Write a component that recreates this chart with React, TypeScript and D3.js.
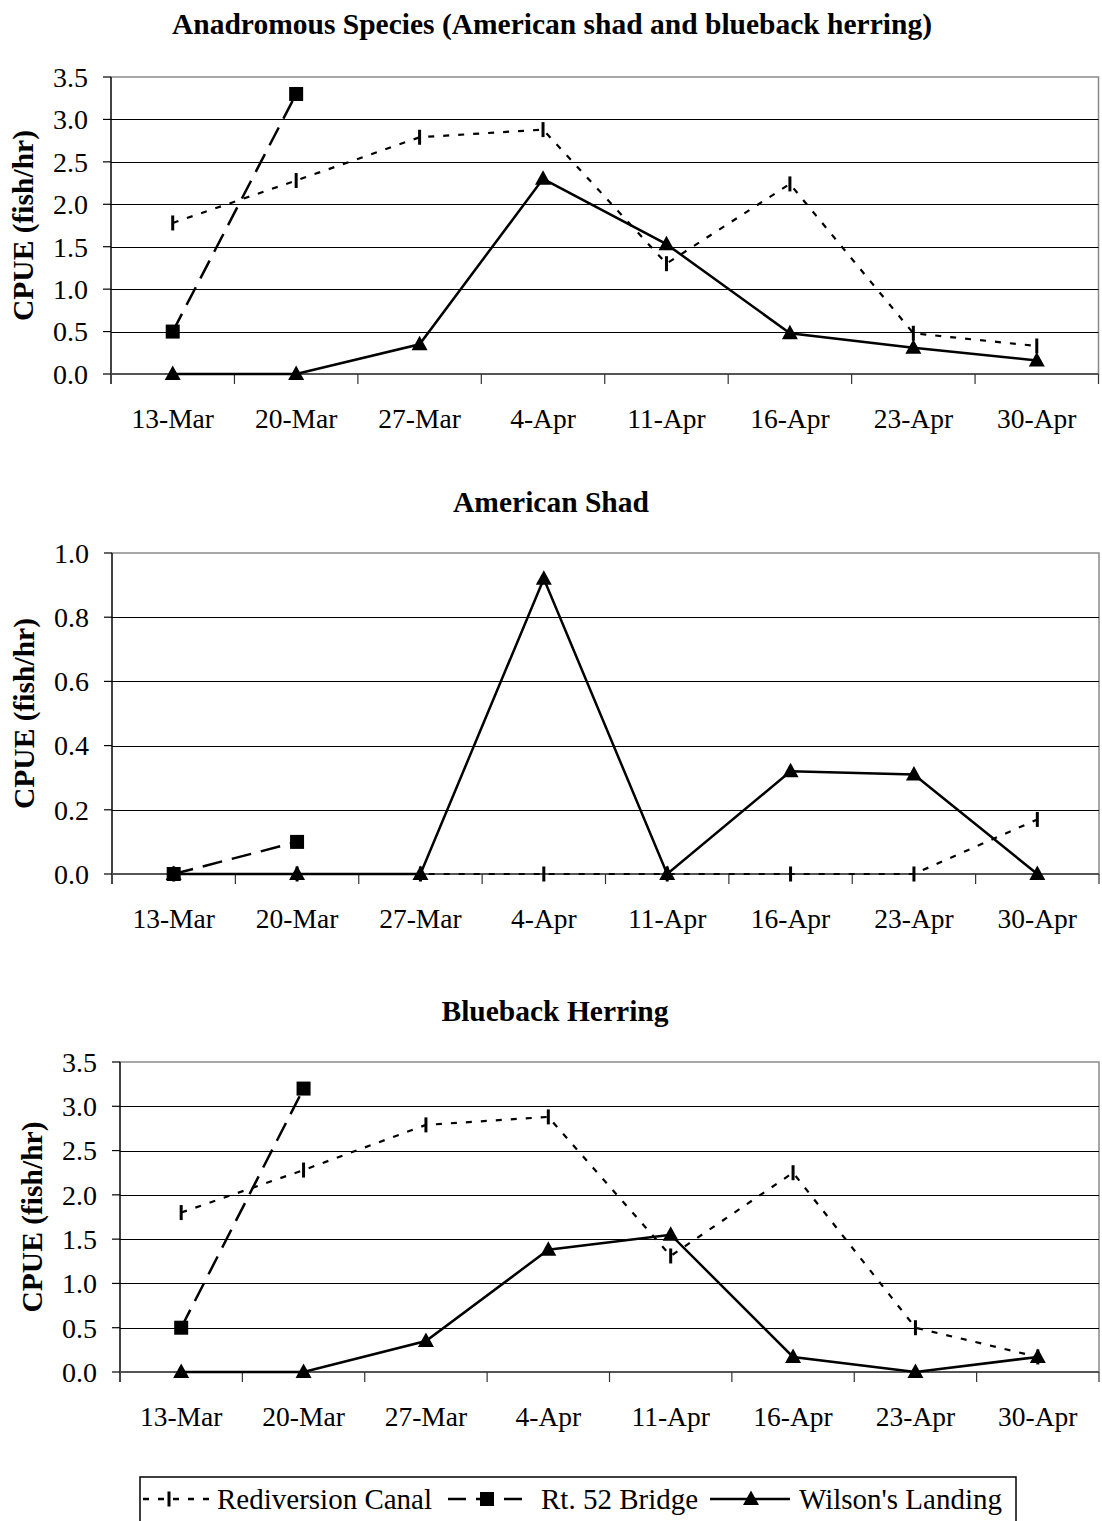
import React, { useEffect, useRef } from 'react';
import * as d3 from 'd3';

const dates = ['13-Mar', '20-Mar', '27-Mar', '4-Apr', '11-Apr', '16-Apr', '23-Apr', '30-Apr'];
const seriesNames = ['Rediversion Canal', 'Rt. 52 Bridge', "Wilson's Landing"];

// Anadromous (shad + blueback)
const anadRediversion = [1.78, 2.28, 2.79, 2.88, 1.3, 2.24, 0.48, 0.33];
const anadBridge = [0.5, 3.3];
const anadWilson = [0, 0, 0.35, 2.3, 1.53, 0.48, 0.31, 0.16];

// American shad
const shadRediversion = [0, 0, 0, 0, 0, 0, 0, 0.17];
const shadBridge = [0, 0.1];
const shadWilson = [0, 0, 0, 0.92, 0, 0.32, 0.31, 0];

// Blueback herring
const bluebackRediversion = [1.8, 2.28, 2.79, 2.88, 1.31, 2.25, 0.5, 0.17];
const bluebackBridge = [0.5, 3.2];
const bluebackWilson = [0, 0, 0.35, 1.38, 1.55, 0.17, 0, 0.17];

const panels = [
  { title: 'Anadromous Species (American shad and blueback herring)', titleX: 552, titleY: 34,
    left: 111, right: 1098.5, top: 77, bottom: 374, yMax: 3.5, yStep: 0.5,
    data: [anadRediversion, anadBridge, anadWilson] },
  { title: 'American Shad', titleX: 551, titleY: 512,
    left: 112, right: 1099, top: 553, bottom: 874, yMax: 1.0, yStep: 0.2,
    data: [shadRediversion, shadBridge, shadWilson] },
  { title: 'Blueback Herring', titleX: 555, titleY: 1021,
    left: 120, right: 1099, top: 1062, bottom: 1372, yMax: 3.5, yStep: 0.5,
    data: [bluebackRediversion, bluebackBridge, bluebackWilson] },
];

const FONT = '"Liberation Serif", "Times New Roman", serif';
const dashes = ['6,9', '20,10', null];

function drawMarker(g: any, kind: number, x: number, y: number) {
  if (kind === 0) {
    g.append('rect').attr('x', x - 1.5).attr('y', y - 7.5).attr('width', 3).attr('height', 15).attr('fill', '#000');
  } else if (kind === 1) {
    g.append('rect').attr('x', x - 7).attr('y', y - 7).attr('width', 14).attr('height', 14).attr('fill', '#000');
  } else {
    g.append('path')
      .attr('d', `M${x},${y - 8.5}L${x + 8},${y + 6}L${x - 8},${y + 6}Z`)
      .attr('fill', '#000');
  }
}

const App = () => {
  const svgRef = useRef<SVGSVGElement>(null);

  useEffect(() => {
    const svg = d3.select(svgRef.current);
    svg.selectAll('*').remove();

    panels.forEach((p) => {
      const g = svg.append('g');
      const x = d3.scaleBand().domain(dates).range([p.left, p.right]).padding(0);
      const cx = (d: string) => (x(d) as number) + x.bandwidth() / 2;
      const y = d3.scaleLinear().domain([0, p.yMax]).range([p.bottom, p.top]);
      const ticks = d3.range(0, p.yMax + 1e-9, p.yStep);

      g.append('rect')
        .attr('x', p.left).attr('y', p.top)
        .attr('width', p.right - p.left).attr('height', p.bottom - p.top)
        .attr('fill', '#fff').attr('stroke', '#8a8a8a').attr('stroke-width', 1.5);

      // gridlines
      g.selectAll('.grid').data(ticks.slice(1, -1)).enter().append('line')
        .attr('x1', p.left).attr('x2', p.right)
        .attr('y1', (d) => Math.round(y(d)) + 0.5).attr('y2', (d) => Math.round(y(d)) + 0.5)
        .attr('stroke', '#000').attr('stroke-width', 1);

      // y axis
      g.append('line').attr('x1', p.left).attr('x2', p.left).attr('y1', p.top).attr('y2', p.bottom + 10)
        .attr('stroke', '#000').attr('stroke-width', 1.2);
      g.selectAll('.ytick').data(ticks).enter().append('line')
        .attr('x1', p.left - 8).attr('x2', p.left)
        .attr('y1', (d) => y(d)).attr('y2', (d) => y(d))
        .attr('stroke', '#000').attr('stroke-width', 1.2);
      g.selectAll('.ylab').data(ticks).enter().append('text')
        .attr('x', p.left - 23).attr('y', (d) => y(d)).attr('dy', '0.35em')
        .attr('text-anchor', 'end').attr('font-family', FONT).attr('font-size', 28)
        .text((d) => d3.format('.1f')(d));

      // x axis
      g.append('line').attr('x1', p.left).attr('x2', p.right).attr('y1', p.bottom).attr('y2', p.bottom)
        .attr('stroke', '#555').attr('stroke-width', 1.8);
      const bounds = dates.map((d) => x(d) as number).concat([p.right]);
      g.selectAll('.xtick').data(bounds).enter().append('line')
        .attr('x1', (d) => d).attr('x2', (d) => d)
        .attr('y1', p.bottom).attr('y2', p.bottom + 10)
        .attr('stroke', '#333').attr('stroke-width', 1.2);
      g.selectAll('.xlab').data(dates).enter().append('text')
        .attr('x', (d) => cx(d)).attr('y', p.bottom + 54)
        .attr('text-anchor', 'middle').attr('font-family', FONT).attr('font-size', 27.5)
        .text((d) => d);

      // titles
      g.append('text').attr('x', p.titleX).attr('y', p.titleY)
        .attr('text-anchor', 'middle').attr('font-family', FONT).attr('font-weight', 'bold')
        .attr('font-size', 29.5).text(p.title);
      g.append('text')
        .attr('transform', `translate(${p.left - 88},${(p.top + p.bottom) / 2}) rotate(-90)`)
        .attr('dy', '0.35em').attr('text-anchor', 'middle')
        .attr('font-family', FONT).attr('font-weight', 'bold').attr('font-size', 29.5)
        .text('CPUE (fish/hr)');

      // series
      p.data.forEach((vals, si) => {
        const line = d3.line<number>().x((d, i) => cx(dates[i])).y((d) => y(d));
        const path = g.append('path').attr('d', line(vals) as string)
          .attr('fill', 'none').attr('stroke', '#000').attr('stroke-width', si === 0 ? 2.2 : 2.5);
        if (dashes[si]) path.attr('stroke-dasharray', dashes[si] as string);
      });
      p.data.forEach((vals, si) => {
        vals.forEach((v, i) => drawMarker(g, si, cx(dates[i]), y(v)));
      });
    });

    // legend
    const lg = svg.append('g');
    lg.append('rect').attr('x', 140).attr('y', 1477).attr('width', 876).attr('height', 60)
      .attr('fill', '#fff').attr('stroke', '#000').attr('stroke-width', 1.5);
    const legendItems = [
      { x1: 143, x2: 210, tx: 217, mx: 169 },
      { x1: 448, x2: 523, tx: 541, mx: 487 },
      { x1: 710, x2: 790, tx: 799, mx: 751 },
    ];
    legendItems.forEach((it, si) => {
      const ly = 1499;
      const l = lg.append('line').attr('x1', it.x1).attr('x2', it.x2).attr('y1', ly).attr('y2', ly)
        .attr('stroke', '#000').attr('stroke-width', 2.5);
      if (si === 0) l.attr('stroke-dasharray', '6,9');
      if (si === 1) l.attr('stroke-dasharray', '18,10');
      drawMarker(lg, si, it.mx, ly);
      lg.append('text').attr('x', it.tx).attr('y', 1509)
        .attr('font-family', FONT).attr('font-size', 29).text(seriesNames[si]);
    });
  }, []);

  return (
    <svg ref={svgRef} width={1102} height={1521}
      style={{ position: 'absolute', left: 0, top: 0, background: '#fff' }} />
  );
};

export default App;
